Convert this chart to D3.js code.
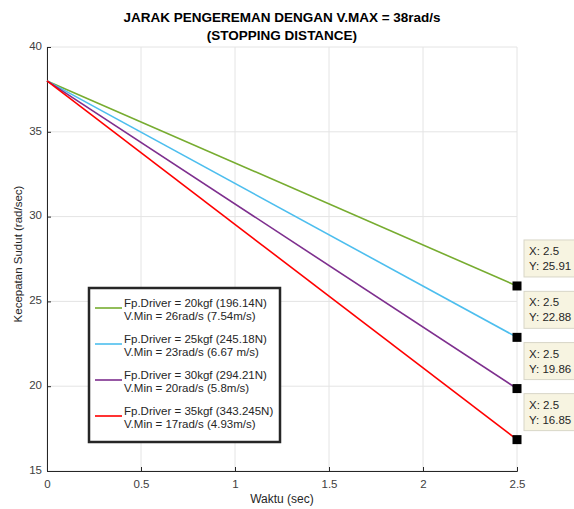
<!DOCTYPE html>
<html>
<head>
<meta charset="utf-8">
<script src="https://cdn.jsdelivr.net/npm/d3@7"></script>
<style>
  body { margin: 0; background: #fff; }
  svg { font-family: "Liberation Sans", Arial, sans-serif; }
</style>
</head>
<body>
<svg id="chart" width="574" height="509"></svg>
<script>
// data
const timeSec = [0, 2.5];
const seriesNames = ["20kgf", "25kgf", "30kgf", "35kgf"];
const speedValues = [
    [38, 25.91],
    [38, 22.88],
    [38, 19.86],
    [38, 16.85]
];
const seriesColors = ["#77AC30", "#4DBEEE", "#7E2F8E", "#FF0000"];
const legendLines = [
    ["Fp.Driver = 20kgf (196.14N)", "V.Min = 26rad/s (7.54m/s)"],
    ["Fp.Driver = 25kgf (245.18N)", "V.Min = 23rad/s (6.67 m/s)"],
    ["Fp.Driver = 30kgf (294.21N)", "V.Min = 20rad/s (5.8m/s)"],
    ["Fp.Driver = 35kgf (343.245N)", "V.Min = 17rad/s (4.93m/s)"]
];
const xTicks = [0, 0.5, 1, 1.5, 2, 2.5];
const yTicks = [15, 20, 25, 30, 35, 40];

const svg = d3.select("#chart");
const margin = { top: 47, right: 57, bottom: 38, left: 47 };
const width = 574 - margin.left - margin.right;
const height = 509 - margin.top - margin.bottom;

const x = d3.scaleLinear().domain([0, 2.5]).range([0, width]);
const y = d3.scaleLinear().domain([15, 40]).range([height, 0]);

const g = svg.append("g").attr("transform", `translate(${margin.left},${margin.top})`);

// grid
g.append("g").selectAll("line").data(xTicks).join("line")
    .attr("x1", d => x(d)).attr("x2", d => x(d))
    .attr("y1", 0).attr("y2", height)
    .attr("stroke", "#e4e4e4");
g.append("g").selectAll("line").data(yTicks).join("line")
    .attr("x1", 0).attr("x2", width)
    .attr("y1", d => y(d)).attr("y2", d => y(d))
    .attr("stroke", "#e4e4e4");

// axes (ticks point inward, like matlab)
const xAxis = g.append("g").attr("transform", `translate(0,${height})`)
    .call(d3.axisBottom(x).tickValues(xTicks).tickSize(-4).tickPadding(9).tickFormat(d3.format("")));
const yAxis = g.append("g")
    .call(d3.axisLeft(y).tickValues(yTicks).tickSize(-4).tickPadding(5));
[xAxis, yAxis].forEach(a => {
    a.select(".domain").attr("stroke", "#262626");
    a.selectAll(".tick line").attr("stroke", "#262626");
    a.selectAll(".tick text").attr("fill", "#404040").style("font-size", "11.5px")
        .style("font-family", "'Liberation Sans', Arial, sans-serif");
});
yAxis.selectAll(".tick text").attr("dy", "0.2em");

// lines
const line = d3.line().x((d, i) => x(timeSec[i])).y(d => y(d));
g.selectAll(".series").data(speedValues).join("path")
    .attr("class", "series")
    .attr("d", line)
    .attr("fill", "none")
    .attr("stroke", (d, i) => seriesColors[i])
    .attr("stroke-width", 1.6);

// data tips
const tips = g.selectAll(".tip").data(speedValues).join("g")
    .attr("class", "tip")
    .attr("transform", d => `translate(${x(timeSec[1])},${y(d[1])})`);
tips.append("rect")
    .attr("x", 7).attr("y", -46).attr("width", 60).attr("height", 37)
    .attr("fill", "#f7f4e1").attr("stroke", "#d8d6c8");
tips.append("text").attr("x", 12).attr("y", -31)
    .attr("fill", "#262626").style("font-size", "11.5px")
    .text(d => "X: " + timeSec[1]);
tips.append("text").attr("x", 12).attr("y", -16)
    .attr("fill", "#262626").style("font-size", "11.5px")
    .text(d => "Y: " + d[1]);
tips.append("rect")
    .attr("x", -4.5).attr("y", -4.5).attr("width", 9).attr("height", 9)
    .attr("fill", "#000");

// legend
const legend = g.append("g").attr("transform", `translate(${89 - margin.left},${288 - margin.top})`);
legend.append("rect")
    .attr("width", 191).attr("height", 154)
    .attr("fill", "#fff").attr("stroke", "#262626").attr("stroke-width", 2.5);
const entry = legend.selectAll(".entry").data(legendLines).join("g")
    .attr("class", "entry")
    .attr("transform", (d, i) => `translate(0,${20 + i * 36})`);
entry.append("line")
    .attr("x1", 6).attr("x2", 33).attr("y1", 0).attr("y2", 0)
    .attr("stroke", (d, i) => seriesColors[i]).attr("stroke-width", 1.6);
entry.append("text").attr("x", 35).attr("y", -1)
    .attr("fill", "#262626").style("font-size", "11.5px").text(d => d[0]);
entry.append("text").attr("x", 35).attr("y", 12)
    .attr("fill", "#262626").style("font-size", "11.5px").text(d => d[1]);

// titles
svg.append("text").attr("x", margin.left + width / 2).attr("y", 22)
    .attr("text-anchor", "middle").style("font-size", "13.5px").style("font-weight", "bold")
    .attr("fill", "#000").text("JARAK PENGEREMAN DENGAN V.MAX = 38rad/s");
svg.append("text").attr("x", margin.left + width / 2).attr("y", 40)
    .attr("text-anchor", "middle").style("font-size", "13.5px").style("font-weight", "bold")
    .attr("fill", "#000").text("(STOPPING DISTANCE)");
svg.append("text").attr("x", margin.left + width / 2).attr("y", 503)
    .attr("text-anchor", "middle").style("font-size", "12px")
    .attr("fill", "#262626").text("Waktu (sec)");
svg.append("text")
    .attr("transform", `translate(22,${margin.top + height / 2 - 5}) rotate(-90)`)
    .attr("text-anchor", "middle").style("font-size", "11.5px")
    .attr("fill", "#262626").text("Kecepatan Sudut (rad/sec)");
</script>
</body>
</html>
